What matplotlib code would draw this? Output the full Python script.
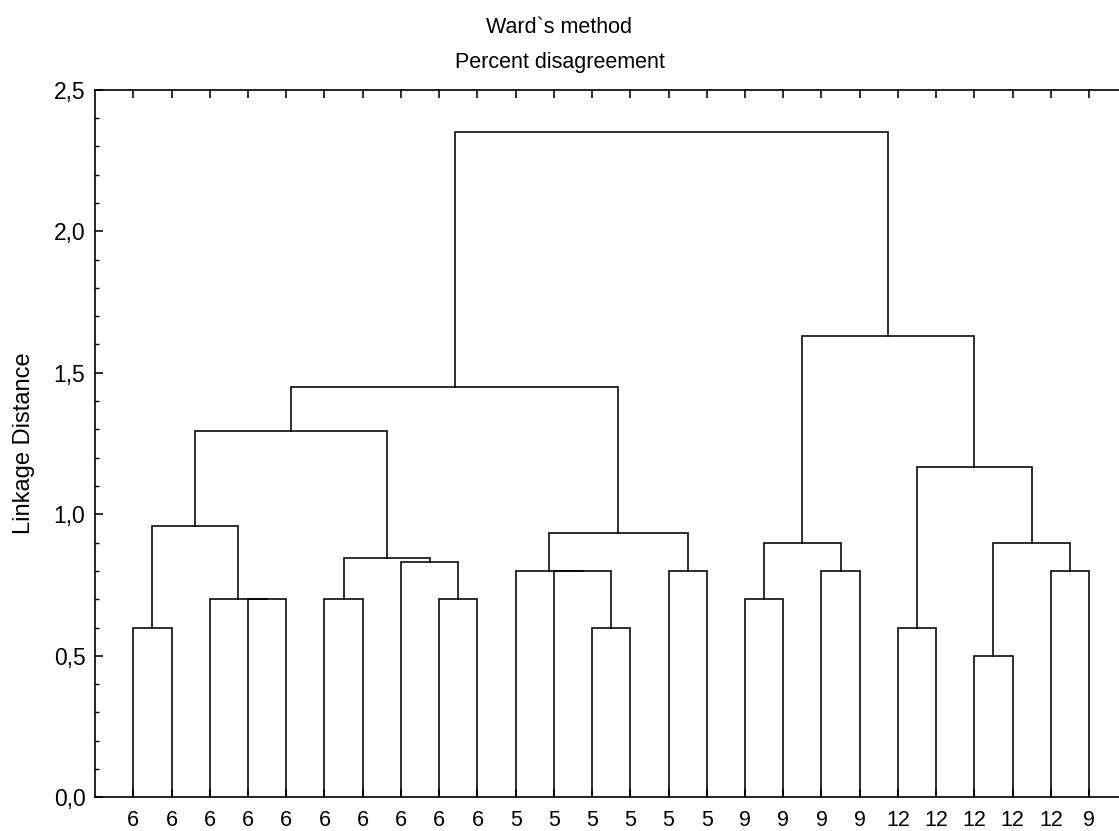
import matplotlib
matplotlib.use("Agg")
import matplotlib.pyplot as plt
from matplotlib.ticker import FixedLocator, MultipleLocator, FuncFormatter

plt.rcParams['font.family'] = ['Liberation Sans', 'DejaVu Sans']

# leaf labels in tree order
leaf_labels = ['6', '6', '6', '6', '6', '6', '6', '6', '6', '6',
               '5', '5', '5', '5', '5', '5',
               '9', '9', '9', '9',
               '12', '12', '12', '12', '12', '9']

# merges, scipy-linkage style: new node ids start at len(leaf_labels)
merge_left = [0, 3, 2, 26, 5, 8, 7, 30, 29, 12, 11, 10, 14, 37, 34,
              16, 18, 41, 20, 22, 24, 45, 44, 43, 40]
merge_right = [1, 4, 27, 28, 6, 9, 31, 32, 33, 13, 35, 36, 15, 38, 39,
               17, 19, 42, 21, 23, 25, 46, 47, 48, 49]
merge_height = [0.60, 0.70, 0.70, 0.96, 0.70, 0.70, 0.83, 0.845, 1.295,
                0.60, 0.80, 0.80, 0.80, 0.933, 1.45,
                0.70, 0.80, 0.90, 0.60, 0.50, 0.80, 0.90, 1.168, 1.63, 2.35]


def node_positions():
    n = len(leaf_labels)
    pos = {i: i + 1.0 for i in range(n)}
    hgt = {i: 0.0 for i in range(n)}
    for k, (l, r, h) in enumerate(zip(merge_left, merge_right, merge_height)):
        pos[n + k] = (pos[l] + pos[r]) / 2
        hgt[n + k] = h
    return pos, hgt


fig = plt.figure(figsize=(11.19, 8.31), dpi=100)
W, H = 1119, 831
x0, x1 = 95.1, 1127.3
y0, y1 = 797.3, 89.8
ax = fig.add_axes([x0 / W, (H - y0) / H, (x1 - x0) / W, (y0 - y1) / H])

pos, hgt = node_positions()
for l, r, h in zip(merge_left, merge_right, merge_height):
    ax.plot([pos[l], pos[l], pos[r], pos[r]], [hgt[l], h, h, hgt[r]],
            color='black', lw=1.15, solid_joinstyle='miter')

ax.set_xlim(0, 27)
ax.set_ylim(0, 2.5)

ax.xaxis.set_major_locator(FixedLocator(range(1, len(leaf_labels) + 1)))
ax.set_xticklabels(leaf_labels)
ax.yaxis.set_major_locator(MultipleLocator(0.5))
ax.yaxis.set_minor_locator(MultipleLocator(0.1))
ax.yaxis.set_major_formatter(FuncFormatter(lambda v, p: f"{v:.1f}".replace('.', ',')))

ax.tick_params(axis='x', which='major', direction='in', length=6, width=1.15,
               top=True, labelsize=15.5, pad=9)
ax.tick_params(axis='y', which='major', direction='in', length=6, width=1.15,
               labelsize=16.5, pad=7)
ax.tick_params(axis='y', which='minor', direction='in', length=3, width=1.0)
ax.spines['right'].set_visible(False)
for s in ['left', 'top', 'bottom']:
    ax.spines[s].set_linewidth(1.2)

fig.text(0.5, 1 - 33 / H, "Ward`s method", ha='center', va='baseline', fontsize=15.5)
fig.text(0.5, 1 - 68 / H, "Percent disagreement", ha='center', va='baseline', fontsize=15.5)
fig.text(24 / W, 1 - 443 / H, "Linkage Distance", rotation=90,
         ha='center', va='center', fontsize=17)

fig.savefig('out.png', dpi=100)
